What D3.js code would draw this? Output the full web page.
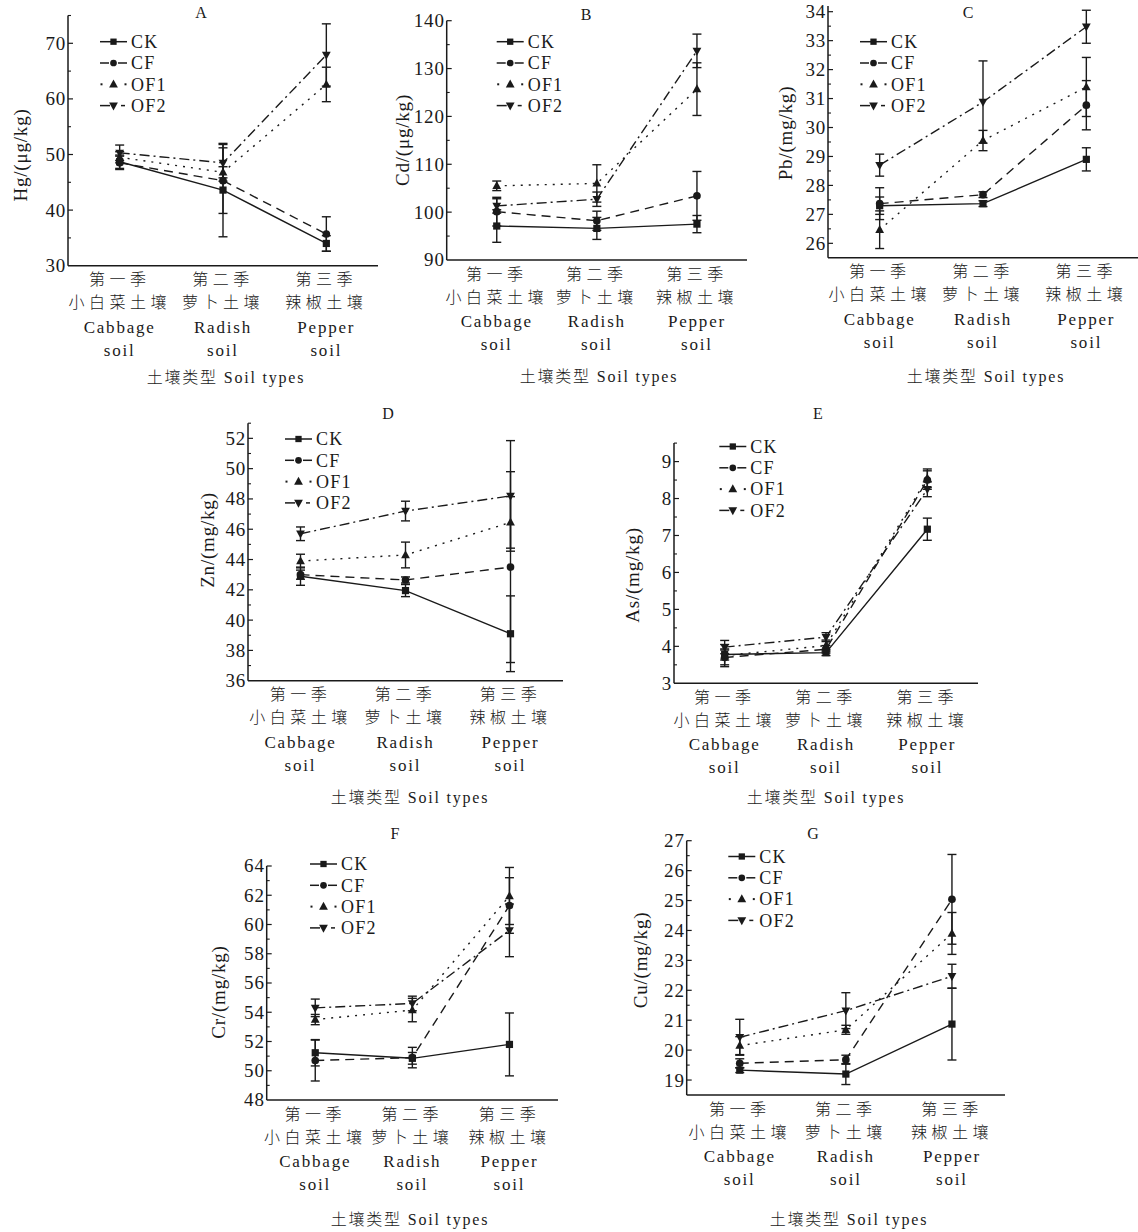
<!DOCTYPE html>
<html><head><meta charset="utf-8">
<script src="https://cdn.jsdelivr.net/npm/d3@7"></script>
<style>
body{margin:0;background:#fff;}
svg{display:block;}
text{fill:#1a1a1a;font-family:"Liberation Serif","Times New Roman",serif;}
.cjk{font-family:"Liberation Serif","Noto Sans CJK SC",serif;font-weight:300;}
</style></head>
<body>
<svg id="chart" width="1138" height="1232"></svg>
<script>
// ---------- data ----------
const seasons = ["第一季","第二季","第三季"];
const soilCN = ["小白菜土壤","萝卜土壤","辣椒土壤"];
const soilEN = ["Cabbage","Radish","Pepper"];
const soilEN2 = ["soil","soil","soil"];
const seriesNames = ["CK","CF","OF1","OF2"];
const xAxisTitle = "土壤类型 Soil types";

// Hg (μg/kg): rows CK, CF, OF1, OF2
const hgMean = [[48.7,43.6,34.0],[48.5,45.3,35.7],[49.5,46.8,62.6],[50.3,48.5,67.9]];
const hgErr  = [[1.2,8.4,1.4],[1.2,5.9,3.1],[1.0,1.0,3.1],[1.4,3.3,5.6]];
const hgTicks = [30,40,50,60,70];
// Cd (μg/kg)
const cdMean = [[97.1,96.6,97.5],[100.1,98.2,103.4],[105.5,106.0,125.7],[101.3,102.7,133.7]];
const cdErr  = [[3.4,2.3,1.8],[3.0,2.0,5.1],[1.0,3.9,5.5],[1.5,1.5,3.5]];
const cdTicks = [90,100,110,120,130,140];
// Pb (mg/kg)
const pbMean = [[27.3,27.37,28.9],[27.37,27.68,30.77],[26.47,29.55,31.4],[28.7,30.88,33.48]];
const pbErr  = [[0.3,0.1,0.4],[0.55,0.1,0.85],[0.65,0.35,1.02],[0.38,1.42,0.57]];
const pbTicks = [26,27,28,29,30,31,32,33,34];
// Zn (mg/kg)
const znMean = [[42.9,41.95,39.1],[43.0,42.65,43.5],[43.9,44.3,46.45],[45.7,47.2,48.2]];
const znErr  = [[0.6,0.4,2.5],[0.3,0.2,6.3],[0.45,0.85,1.7],[0.45,0.65,3.65]];
const znTicks = [36,38,40,42,44,46,48,50,52];
// As (mg/kg)
const asMean = [[3.78,3.83,7.17],[3.70,3.92,8.5],[3.75,4.02,8.55],[3.98,4.25,8.25]];
const asErr  = [[0.15,0.08,0.3],[0.2,0.1,0.25],[0.3,0.15,0.25],[0.18,0.12,0.2]];
const asTicks = [3,4,5,6,7,8,9];
// Cr (mg/kg)
const crMean = [[51.23,50.85,51.8],[50.7,50.9,61.3],[53.5,54.15,61.95],[54.3,54.6,59.6]];
const crErr  = [[0.9,0.4,2.15],[1.4,0.7,1.9],[0.35,0.8,1.95],[0.6,0.5,1.8]];
const crTicks = [48,50,52,54,56,58,60,62,64];
// Cu (mg/kg)
const cuMean = [[19.33,19.2,20.87],[19.56,19.68,25.04],[20.15,20.68,23.9],[20.43,21.32,22.47]];
const cuErr  = [[0.08,0.35,1.2],[0.15,0.15,1.5],[0.3,0.15,0.7],[0.6,0.6,0.4]];
const cuTicks = [19,20,21,22,23,24,25,26,27];

// ---------- layout ----------
const panels = [
 {id:"A", ylab:"Hg/(μg/kg)", mean:hgMean, err:hgErr, ticks:hgTicks, minor:5, dom:[30,75], yr:[265.7,15.5], xr:[68,378],
  title:[201,12], ylabPos:[20,155], leg:[100,41.7], xtitle:[226,377]},
 {id:"B", ylab:"Cd/(μg/kg)", mean:cdMean, err:cdErr, ticks:cdTicks, minor:5, dom:[90,140], yr:[260,20.7], xr:[446.7,747],
  title:[586,14], ylabPos:[402,140], leg:[496.7,41.7], xtitle:[599,376]},
 {id:"C", ylab:"Pb/(mg/kg)", mean:pbMean, err:pbErr, ticks:pbTicks, minor:0.5, dom:[25.5,34.2], yr:[257.8,5.9], xr:[828,1138],
  title:[968,12], ylabPos:[785,133], leg:[860,41.7], xtitle:[986,376]},
 {id:"D", ylab:"Zn/(mg/kg)", mean:znMean, err:znErr, ticks:znTicks, minor:1, dom:[36,53], yr:[680.7,423.2], xr:[248,563],
  title:[388,413], ylabPos:[207,540], leg:[285,439], xtitle:[410,797]},
 {id:"E", ylab:"As/(mg/kg)", mean:asMean, err:asErr, ticks:asTicks, minor:0.5, dom:[3,9.5], yr:[683.3,443.1], xr:[674,978],
  title:[818,413], ylabPos:[632,575], leg:[719.3,446.5], xtitle:[826,797]},
 {id:"F", ylab:"Cr/(mg/kg)", mean:crMean, err:crErr, ticks:crTicks, minor:1, dom:[48,64], yr:[1100,866], xr:[266.7,558],
  title:[395,833], ylabPos:[218,992], leg:[310,864], xtitle:[410,1219]},
 {id:"G", ylab:"Cu/(mg/kg)", mean:cuMean, err:cuErr, ticks:cuTicks, minor:0.5, dom:[18.5,27], yr:[1095,840.7], xr:[686.7,1005],
  title:[813,833], ylabPos:[640,960], leg:[728.3,856.5], xtitle:[849,1219]},
];

const dashes = ["none","9,6","2,6","10,4,2,4"];
const ink = "#1a1a1a";
const svg = d3.select("#chart");

function marker(g, k, x, y, s){
  if(k===0){ g.append("rect").attr("x",x-s*0.45).attr("y",y-s*0.45).attr("width",s*0.9).attr("height",s*0.9).attr("fill",ink); }
  else if(k===1){ g.append("circle").attr("cx",x).attr("cy",y).attr("r",s*0.48).attr("fill",ink); }
  else if(k===2){ const h=s*1.0; g.append("path").attr("d",`M${x},${y-h*0.6}L${x+h*0.55},${y+h*0.4}L${x-h*0.55},${y+h*0.4}Z`).attr("fill",ink); }
  else { const h=s*1.0; g.append("path").attr("d",`M${x},${y+h*0.6}L${x+h*0.55},${y-h*0.4}L${x-h*0.55},${y-h*0.4}Z`).attr("fill",ink); }
}

panels.forEach(p=>{
  const g = svg.append("g");
  const y = d3.scaleLinear().domain(p.dom).range(p.yr);
  const x = d3.scalePoint().domain(seasons).range(p.xr).padding(0.5);
  const y0 = p.yr[0];

  // axes lines
  g.append("line").attr("x1",p.xr[0]).attr("x2",p.xr[0]).attr("y1",p.yr[1]).attr("y2",y0).attr("stroke",ink).attr("stroke-width",1.5);
  g.append("line").attr("x1",p.xr[0]).attr("x2",p.xr[1]).attr("y1",y0).attr("y2",y0).attr("stroke",ink).attr("stroke-width",1.5);

  // minor ticks
  const minors = d3.range(p.dom[0], p.dom[1]+1e-9, p.minor).filter(v=>!p.ticks.some(t=>Math.abs(t-v)<1e-6) && Math.abs(v-p.dom[0])>1e-6);
  g.selectAll(".mn").data(minors).join("line").attr("x1",p.xr[0]).attr("x2",p.xr[0]+3)
    .attr("y1",d=>y(d)).attr("y2",d=>y(d)).attr("stroke",ink).attr("stroke-width",1.1);
  // major ticks + labels
  g.selectAll(".mj").data(p.ticks.filter(t=>t>p.dom[0])).join("line").attr("x1",p.xr[0]).attr("x2",p.xr[0]+5)
    .attr("y1",d=>y(d)).attr("y2",d=>y(d)).attr("stroke",ink).attr("stroke-width",1.2);
  g.selectAll(".tl").data(p.ticks).join("text").attr("x",p.xr[0]-2).attr("y",d=>y(d)).attr("dy","0.34em")
    .attr("text-anchor","end").attr("font-size",19).attr("letter-spacing","0.8px").text(d=>d);

  // x category labels
  const rows = [seasons, soilCN, soilEN, soilEN2];
  const offs = [14,37,61,84];
  rows.forEach((arr,ri)=>{
    g.selectAll(".xl"+ri).data(seasons).join("text").attr("class","cjk")
      .attr("x",d=>x(d)).attr("y",y0+offs[ri]).attr("dy","0.35em").attr("text-anchor","middle")
      .attr("font-size", ri<2?16:17).attr("letter-spacing", ri<2?"4.5px":"1.8px")
      .text((d,i)=>arr[i]);
  });
  g.append("text").attr("class","cjk").attr("x",p.xtitle[0]).attr("y",p.xtitle[1]).attr("dy","0.35em")
    .attr("text-anchor","middle").attr("font-size",16).attr("letter-spacing","1.8px").text(xAxisTitle);

  // title letter
  g.append("text").attr("x",p.title[0]).attr("y",p.title[1]).attr("dy","0.35em").attr("text-anchor","middle")
    .attr("font-size",16).text(p.id);
  // y label
  g.append("text").attr("transform",`translate(${p.ylabPos[0]},${p.ylabPos[1]}) rotate(-90)`).attr("dy","0.35em")
    .attr("text-anchor","middle").attr("font-size",19).attr("letter-spacing","0.8px").text(p.ylab);

  // lines
  const line = d3.line().x((d,i)=>x(seasons[i])).y(d=>y(d));
  p.mean.forEach((vals,k)=>{
    g.append("path").attr("d",line(vals)).attr("fill","none").attr("stroke",ink).attr("stroke-width",1.4)
      .attr("stroke-dasharray",dashes[k]);
  });
  // error bars
  p.mean.forEach((vals,k)=>{
    vals.forEach((v,i)=>{
      const e = p.err[k][i], cx = x(seasons[i]);
      g.append("line").attr("x1",cx).attr("x2",cx).attr("y1",y(v-e)).attr("y2",y(v+e)).attr("stroke",ink).attr("stroke-width",1.4);
      [v-e,v+e].forEach(c=>g.append("line").attr("x1",cx-4.5).attr("x2",cx+4.5).attr("y1",y(c)).attr("y2",y(c)).attr("stroke",ink).attr("stroke-width",1.4));
    });
  });
  // markers
  p.mean.forEach((vals,k)=>{
    vals.forEach((v,i)=>marker(g,k,x(seasons[i]),y(v),8));
  });

  // legend
  seriesNames.forEach((nm,k)=>{
    const lx = p.leg[0], ly = p.leg[1] + k*21.3;
    if(k===0){ g.append("line").attr("x1",lx).attr("x2",lx+27).attr("y1",ly).attr("y2",ly).attr("stroke",ink).attr("stroke-width",1.5); }
    else if(k===1){
      g.append("line").attr("x1",lx).attr("x2",lx+9).attr("y1",ly).attr("y2",ly).attr("stroke",ink).attr("stroke-width",1.5);
      g.append("line").attr("x1",lx+18).attr("x2",lx+27).attr("y1",ly).attr("y2",ly).attr("stroke",ink).attr("stroke-width",1.5);
    } else if(k===2){
      [lx+1.5, lx+25.5].forEach(cx=>g.append("rect").attr("x",cx-1).attr("y",ly-1).attr("width",2).attr("height",2).attr("fill",ink));
    } else {
      g.append("line").attr("x1",lx).attr("x2",lx+10).attr("y1",ly).attr("y2",ly).attr("stroke",ink).attr("stroke-width",1.5);
      g.append("line").attr("x1",lx+21).attr("x2",lx+25).attr("y1",ly).attr("y2",ly).attr("stroke",ink).attr("stroke-width",1.5);
    }
    marker(g,k,lx+13.5,ly,k>=2?8:7);
    g.append("text").attr("x",lx+31).attr("y",ly).attr("dy","0.35em").attr("font-size",18).attr("letter-spacing","1.2px").text(nm);
  });
});
</script>
</body></html>
